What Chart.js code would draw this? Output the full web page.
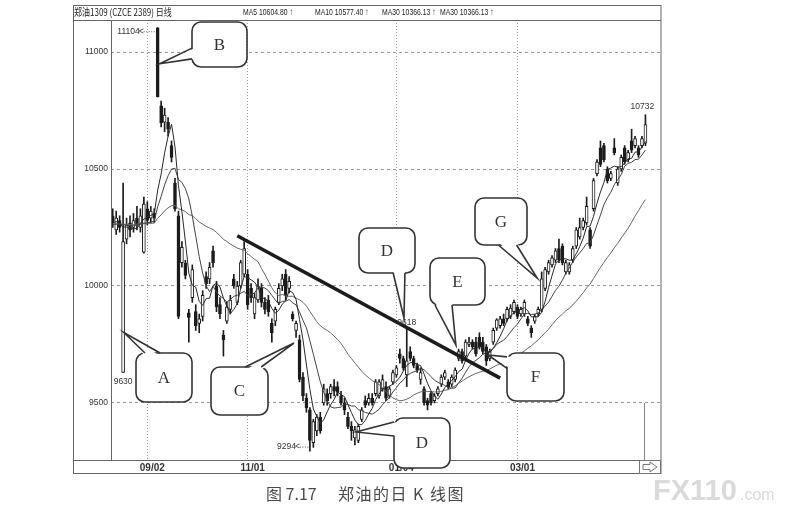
<!DOCTYPE html>
<html>
<head>
<meta charset="utf-8">
<script src="https://cdn.jsdelivr.net/npm/chart.js@4.4.0/dist/chart.umd.min.js"></script>
<style>
html,body{margin:0;padding:0;background:#fff}
</style>
</head>
<body>
<canvas id="c" width="785" height="513"></canvas>
<script>
// daily K line of 郑油1309

var dateIdx  = [10, 39, 82, 117]
var dateText = ['09/02', '11/01', '01/04', '03/01']
var priceTicks = [9500, 10000, 10500, 11000]
var nSlots = 159

var open = [10300,10240,10280,9630,10200,10270,10250,10290,10250,10145,
10330,10290,10310,11104,10770,10700,10700,10600,10440,10300,
10100,10098,9885,9950,9890,9840,9870,10040,10030,10150,
10000,9920,9790,9850,9900,10030,9930,10000,10050,10050,
9990,9880,9940,9990,9930,9940,9840,9850,9930,10000,
10050,9990,9880,9810,9770,9610,9520,9470,9330,9380,
9440,9500,9540,9540,9570,9570,9530,9500,9440,9400,
9350,9340,9430,9510,9500,9520,9540,9530,9560,9570,
9530,9590,9620,9710,9690,9620,9720,9690,9660,9600,
9560,9510,9540,9510,9540,9580,9610,9590,9580,9600,
9690,9720,9700,9750,9760,9760,9780,9760,9740,9690,
9760,9820,9830,9860,9860,9870,9890,9910,9880,9880,
9860,9820,9850,9880,9900,9990,10060,10090,10110,10160,
10170,10060,10060,10110,10170,10210,10250,10270,10240,10330,
10480,10590,10600,10500,10460,10590,10440,10500,10590,10540,
10620,10600,10590,10600,10610]

var high = [10330,10320,10300,10440,10290,10300,10310,10340,10330,10380,
10360,10340,10330,11104,10790,10760,10720,10620,10460,10320,
10190,10110,9900,10090,9920,9880,9980,10060,10100,10170,
10020,9950,9810,9930,9960,10050,10020,10110,10190,10070,
10010,9970,10030,10010,9950,9960,9860,9910,10010,10050,
10070,10040,9890,9850,9790,9630,9540,9480,9430,9450,
9460,9580,9560,9580,9600,9590,9550,9520,9460,9420,
9400,9410,9480,9530,9540,9540,9600,9600,9620,9590,
9570,9640,9660,9730,9700,9818,9740,9700,9670,9650,
9570,9520,9550,9540,9570,9620,9640,9600,9620,9650,
9730,9730,9770,9780,9770,9780,9800,9780,9750,9730,
9820,9860,9870,9880,9910,9920,9940,9920,9910,9940,
9870,9830,9880,9910,10060,10080,10110,10130,10160,10200,
10180,10110,10100,10170,10250,10290,10290,10380,10250,10460,
10540,10620,10610,10510,10490,10630,10510,10560,10600,10580,
10670,10640,10600,10640,10732]

var low = [10250,10220,10230,9630,10180,10210,10230,10240,10230,10140,
10260,10270,10270,10808,10680,10660,10640,10530,10320,9860,
10080,10030,9760,9930,9810,9800,9850,9990,10010,10080,
9890,9860,9700,9840,9880,9990,9920,9990,10040,9900,
9930,9860,9930,9910,9880,9870,9760,9830,9920,9980,
9940,9970,9850,9780,9590,9510,9460,9294,9310,9360,
9370,9490,9490,9520,9530,9530,9490,9450,9390,9340,
9320,9330,9420,9480,9490,9490,9530,9520,9550,9510,
9520,9580,9610,9670,9640,9570,9680,9650,9630,9580,
9490,9470,9490,9500,9530,9570,9600,9560,9570,9590,
9680,9670,9690,9740,9730,9700,9730,9710,9660,9680,
9750,9810,9820,9830,9850,9860,9880,9860,9870,9870,
9830,9780,9840,9870,9890,9980,10050,10080,10100,10100,
10090,10050,10050,10100,10160,10200,10240,10260,10160,10320,
10470,10510,10530,10440,10450,10560,10430,10490,10520,10530,
10570,10590,10550,10590,10600]

var close = [10270,10290,10250,10190,10260,10240,10280,10260,10300,10350,
10280,10320,10290,10808,10697,10730,10670,10550,10330,9870,
10165,10045,9865,10070,9830,9860,9960,10010,10080,10100,
9910,9880,9770,9910,9940,10000,10000,10100,10160,9920,
9950,9950,10000,9930,9900,9890,9800,9900,9990,10030,
9960,10020,9860,9840,9600,9530,9480,9340,9420,9440,
9380,9560,9510,9570,9550,9545,9500,9470,9400,9380,
9385,9400,9470,9490,9520,9500,9590,9590,9600,9520,
9560,9630,9650,9690,9650,9680,9690,9660,9640,9630,
9500,9490,9500,9530,9560,9610,9630,9570,9610,9640,
9720,9680,9760,9760,9740,9710,9740,9720,9680,9720,
9810,9855,9860,9840,9900,9905,9930,9870,9900,9930,
9840,9800,9870,9900,10030,10070,10100,10120,10150,10110,
10100,10100,10090,10160,10240,10250,10280,10340,10170,10450,
10530,10520,10540,10450,10480,10570,10500,10550,10530,10570,
10580,10630,10560,10630,10690]

var ma5 = [10270,10275,10268,10252,10252,10246,10244,10246,10268,10286,
10294,10302,10308,10410,10479,10569,10639,10691,10595,10430,
10317,10192,10055,10003,9995,9934,9917,9946,9948,10002,
10012,9996,9948,9914,9882,9900,9924,9990,10040,10036,
10026,10016,9996,9950,9946,9934,9904,9884,9896,9922,
9936,9980,9972,9942,9856,9770,9662,9558,9474,9442,
9412,9428,9462,9492,9514,9547,9535,9527,9493,9459,
9427,9407,9407,9425,9453,9476,9514,9538,9560,9560,
9572,9580,9592,9610,9636,9660,9672,9674,9664,9660,
9624,9584,9552,9530,9516,9538,9566,9580,9596,9612,
9634,9644,9682,9712,9732,9730,9742,9734,9718,9714,
9734,9757,9785,9817,9853,9872,9887,9889,9901,9907,
9894,9868,9868,9868,9888,9934,9994,10044,10094,10110,
10116,10116,10110,10112,10138,10168,10204,10254,10256,10298,
10354,10402,10442,10498,10504,10512,10508,10510,10526,10544,
10546,10572,10574,10594,10618]

var ma10 = [10262,10264,10265,10262,10260,10258,10258,10260,10264,10269,
10270,10273,10277,10339,10383,10432,10471,10500,10503,10455,
10443,10416,10373,10299,10213,10126,10055,10001,9976,9999,
9973,9957,9947,9931,9942,9956,9960,9969,9977,9959,
9963,9970,9993,9995,9991,9980,9960,9940,9923,9934,
9935,9942,9928,9919,9889,9853,9821,9765,9708,9649,
9591,9545,9510,9483,9478,9480,9482,9495,9493,9487,
9487,9471,9467,9459,9456,9452,9461,9473,9493,9507,
9524,9547,9565,9585,9598,9616,9626,9633,9637,9648,
9642,9628,9613,9597,9588,9581,9575,9566,9563,9564,
9586,9605,9631,9654,9672,9682,9693,9708,9715,9723,
9732,9750,9760,9768,9784,9803,9822,9837,9859,9880,
9883,9878,9879,9885,9898,9914,9931,9956,9981,9999,
10025,10055,10077,10103,10124,10142,10160,10182,10184,10218,
10261,10303,10348,10377,10401,10433,10455,10476,10512,10524,
10529,10540,10542,10560,10581]

var ma30 = [10266,10266,10265,10264,10264,10263,10263,10264,10265,10266,
10267,10268,10269,10290,10304,10321,10334,10343,10344,10330,
10326,10318,10305,10301,10287,10274,10264,10255,10248,10241,
10229,10215,10199,10190,10179,10171,10162,10157,10152,10138,
10126,10114,10104,10075,10049,10021,9992,9970,9959,9964,
9957,9956,9956,9948,9941,9930,9914,9891,9869,9847,
9830,9819,9810,9799,9786,9771,9754,9733,9708,9690,
9671,9653,9635,9620,9608,9595,9588,9578,9565,9548,
9534,9521,9514,9509,9511,9516,9523,9534,9541,9547,
9551,9549,9548,9547,9547,9550,9554,9557,9564,9573,
9584,9593,9603,9612,9619,9626,9631,9636,9638,9645,
9653,9661,9668,9673,9681,9689,9697,9704,9712,9722,
9734,9744,9757,9769,9785,9800,9815,9834,9852,9867,
9880,9894,9905,9919,9935,9953,9971,9992,10008,10032,
10056,10079,10101,10122,10141,10163,10182,10205,10226,10247,
10272,10299,10322,10347,10369]

// hand drawn trend line: two ends (candle index, price)
var trendIdx = [36, 112]
var trendVal = [10215, 9606]

var labels = []
for (var i = 0; i < nSlots; i++) labels.push('')
for (var k = 0; k < dateIdx.length; k++) labels[dateIdx[k]] = dateText[k]

var bodies = open.map(function (o, i) { return [o, close[i]] })
var wicks = low.map(function (l, i) { return [l, high[i]] })
var bodyColor = open.map(function (o, i) { return close[i] >= o ? '#ffffff' : '#1c1c1c' })
var trend = open.map(function () { return null })
trend[trendIdx[0]] = trendVal[0]
trend[trendIdx[1]] = trendVal[1]

// callouts: box in pixels, tip as (candle index, price)
var callouts = [
  {t: 'B', box: [192, 22, 55, 45], tip: [13.6, 10950], side: 'left', f: [0.58, 0.82]},
  {t: 'A', box: [136, 353, 56, 49], tip: [3.3, 9800], side: 'top', f: [0.16, 0.43]},
  {t: 'C', box: [211, 367, 57, 48], tip: [52.4, 9756], side: 'top', f: [0.6, 0.88]},
  {t: 'D', box: [359, 228, 56, 45], tip: [84.2, 9863], side: 'bottom', f: [0.61, 0.82]},
  {t: 'D', box: [394, 418, 56, 50], tip: [70.3, 9376], side: 'left', f: [0.08, 0.36]},
  {t: 'E', box: [430, 258, 55, 47], tip: [99.2, 9748], side: 'bottom', f: [0.09, 0.4]},
  {t: 'F', box: [507, 353, 57, 48], tip: [108.5, 9705], side: 'left', f: [0.08, 0.32]},
  {t: 'G', box: [475, 198, 52, 47], tip: [122.7, 10034], side: 'bottom', f: [0.45, 0.8]}
]

function narrowText(ctx, txt, x, y, sx) {
  ctx.save()
  ctx.translate(x, y)
  ctx.scale(sx, 1)
  ctx.fillText(txt, 0, 0)
  ctx.restore()
}

const decor = {
  id: 'decor',
  beforeDraw: (chart) => {
    const {ctx} = chart
    ctx.save()
    ctx.fillStyle = '#fff'
    ctx.fillRect(0, 0, chart.width, chart.height)
    ctx.restore()
  },
  afterDraw: (chart) => {
    const {ctx, chartArea: a} = chart
    const xs = chart.scales.x, ys = chart.scales.y
    const px = (v) => xs.getPixelForValue(v)
    const py = (v) => ys.getPixelForValue(v)
    ctx.save()

    // frames
    ctx.strokeStyle = '#666'
    ctx.lineWidth = 1
    ctx.strokeRect(73.5, 5.5, a.right - 73.5, 468)
    ctx.beginPath()
    ctx.moveTo(73, a.top + 0.5); ctx.lineTo(a.right, a.top + 0.5)
    ctx.moveTo(a.left + 0.5, a.top); ctx.lineTo(a.left + 0.5, a.bottom)
    ctx.moveTo(73, a.bottom + 0.5); ctx.lineTo(a.right, a.bottom + 0.5)
    ctx.stroke()
    // cursor line at the last bar
    var cx = Math.round(px(close.length - 1)) - 0.5
    ctx.strokeStyle = '#888'
    ctx.beginPath(); ctx.moveTo(cx, py(9500)); ctx.lineTo(cx, a.bottom); ctx.stroke()
    // scroll arrow
    ctx.strokeStyle = '#777'
    ctx.strokeRect(a.right - 21.5, a.bottom + 0.5, 21, 13)
    ctx.beginPath()
    var ax = a.right - 18, ay = a.bottom + 7
    ctx.moveTo(ax, ay - 2.5); ctx.lineTo(ax + 7, ay - 2.5); ctx.lineTo(ax + 7, ay - 5)
    ctx.lineTo(ax + 14, ay); ctx.lineTo(ax + 7, ay + 5); ctx.lineTo(ax + 7, ay + 2.5)
    ctx.lineTo(ax, ay + 2.5); ctx.closePath(); ctx.stroke()

    // header
    ctx.fillStyle = '#222'
    ctx.textBaseline = 'middle'
    ctx.font = '10px "Noto Sans CJK SC"'
    narrowText(ctx, '郑油1309 (CZCE 2389) 日线', 74, 12, 0.8)
    ctx.font = '9.5px "Liberation Sans"'
    narrowText(ctx, 'MA5 10604.80 ↑', 243, 12, 0.72)
    narrowText(ctx, 'MA10 10577.40 ↑', 315, 12, 0.72)
    narrowText(ctx, 'MA30 10366.13 ↑', 382, 12, 0.72)
    narrowText(ctx, 'MA30 10366.13 ↑', 440, 12, 0.72)

    // high / low marks
    ctx.font = '8.5px "Liberation Sans"'
    ctx.fillStyle = '#333'
    ctx.strokeStyle = '#555'
    ctx.setLineDash([1, 1.5])
    var hx = px(13), hy = py(11104) + 4
    ctx.beginPath(); ctx.moveTo(hx - 14, hy); ctx.lineTo(hx - 2, hy); ctx.stroke()
    var lx = px(57), ly = py(9294) - 4
    ctx.beginPath(); ctx.moveTo(lx - 10, ly); ctx.lineTo(lx - 1, ly); ctx.stroke()
    ctx.setLineDash([])
    ctx.textAlign = 'right'
    ctx.fillText('11104', hx - 18, hy)
    ctx.fillText('<', hx - 14, hy)
    ctx.fillText('9294', lx - 14, ly)
    ctx.fillText('<', lx - 10, ly)
    ctx.textAlign = 'center'
    ctx.fillText('9630', px(3), py(9630) + 9)
    ctx.fillText('9618', px(85), py(9818) - 6)
    ctx.fillText('10732', px(154) - 3, py(10732) - 8)

    // callouts
    callouts.forEach(function (c) {
      var bx = c.box[0], by = c.box[1], bw = c.box[2], bh = c.box[3]
      var tx = px(c.tip[0]), ty = py(c.tip[1])
      var p1, p2, q1, q2
      if (c.side === 'left') { p1 = [bx, by + bh * c.f[0]]; p2 = [bx, by + bh * c.f[1]]; q1 = [p1[0] + 3, p1[1]]; q2 = [p2[0] + 3, p2[1]] }
      if (c.side === 'right') { p1 = [bx + bw, by + bh * c.f[0]]; p2 = [bx + bw, by + bh * c.f[1]]; q1 = [p1[0] - 3, p1[1]]; q2 = [p2[0] - 3, p2[1]] }
      if (c.side === 'top') { p1 = [bx + bw * c.f[0], by]; p2 = [bx + bw * c.f[1], by]; q1 = [p1[0], p1[1] + 3]; q2 = [p2[0], p2[1] + 3] }
      if (c.side === 'bottom') { p1 = [bx + bw * c.f[0], by + bh]; p2 = [bx + bw * c.f[1], by + bh]; q1 = [p1[0], p1[1] - 3]; q2 = [p2[0], p2[1] - 3] }
      ctx.lineWidth = 1.6
      ctx.strokeStyle = '#333'
      ctx.fillStyle = '#fff'
      ctx.beginPath()
      ctx.roundRect(bx, by, bw, bh, 9)
      ctx.fill(); ctx.stroke()
      ctx.beginPath()
      ctx.moveTo(q1[0], q1[1]); ctx.lineTo(tx, ty); ctx.lineTo(q2[0], q2[1]); ctx.closePath()
      ctx.fill()
      ctx.beginPath()
      ctx.moveTo(p1[0], p1[1]); ctx.lineTo(tx, ty); ctx.lineTo(p2[0], p2[1])
      ctx.stroke()
      ctx.fillStyle = '#333'
      ctx.font = '17px "Liberation Serif"'
      ctx.textAlign = 'center'
      ctx.textBaseline = 'middle'
      ctx.fillText(c.t, bx + bw / 2, by + bh / 2 + 1)
    })

    // caption
    ctx.fillStyle = '#4a4a4a'
    ctx.textAlign = 'left'
    ctx.font = '16px "Noto Sans CJK SC"'
    ctx.fillText('图 7.17', 266, 494)
    ctx.letterSpacing = '1.5px'
    ctx.fillText('郑油的日 K 线图', 338, 494)
    ctx.letterSpacing = '0px'

    // watermark
    ctx.fillStyle = '#dadada'
    ctx.textBaseline = 'alphabetic'
    ctx.font = 'bold 29px "Liberation Sans"'
    ctx.fillText('FX110', 653, 500)
    ctx.font = '16px "Liberation Sans"'
    ctx.fillText('.com', 740, 500)
    ctx.restore()
  }
}

var chart = new Chart(document.getElementById('c'), {
  type: 'bar',
  data: {
    labels: labels,
    datasets: [
      {type: 'line', label: 'trend', data: trend, borderColor: '#1c1c1c', borderWidth: 3.5, pointRadius: 0, spanGaps: true, order: 0},
      {type: 'line', label: 'MA5', data: ma5, borderColor: '#2a2a2a', borderWidth: 1, pointRadius: 0, order: 1},
      {type: 'line', label: 'MA10', data: ma10, borderColor: '#444', borderWidth: 1, pointRadius: 0, order: 1},
      {type: 'line', label: 'MA30', data: ma30, borderColor: '#666', borderWidth: 1, pointRadius: 0, order: 1},
      {label: 'body', data: bodies, backgroundColor: bodyColor, borderColor: '#1c1c1c', borderWidth: 1,
        borderSkipped: false, barThickness: 3, grouped: false, minBarLength: 1, order: 2},
      {label: 'wick', data: wicks, backgroundColor: '#1c1c1c', barThickness: 1, grouped: false, order: 3}
    ]
  },
  options: {
    responsive: false,
    animation: false,
    devicePixelRatio: 1,
    layout: {padding: {left: 73, right: 124, top: 20, bottom: 39}},
    plugins: {legend: {display: false}, tooltip: {enabled: false}},
    scales: {
      x: {
        offset: true,
        grid: {
          offset: false,
          drawTicks: false,
          color: function (ctx) { return labels[ctx.index] ? '#999' : 'rgba(0,0,0,0)' }
        },
        border: {display: false, dash: [1, 2]},
        ticks: {
          autoSkip: false, maxRotation: 0, padding: 2, labelOffset: 5,
          color: '#333', font: {family: 'Liberation Sans', size: 10, weight: 'bold'},
          callback: function (v, i) { return labels[i] }
        },
        afterFit: function (s) { s.height = 14 }
      },
      y: {
        min: 9256, max: 11137,
        afterBuildTicks: function (s) { s.ticks = priceTicks.map(function (v) { return {value: v} }) },
        ticks: {padding: 3, color: '#333', font: {family: 'Liberation Sans', size: 8.5},
          callback: function (v) { return String(v) }},
        grid: {color: '#999', drawTicks: false},
        border: {display: false, dash: [3, 3]},
        afterFit: function (s) { s.width = 38 }
      }
    }
  },
  plugins: [decor]
})
</script>
</body>
</html>
